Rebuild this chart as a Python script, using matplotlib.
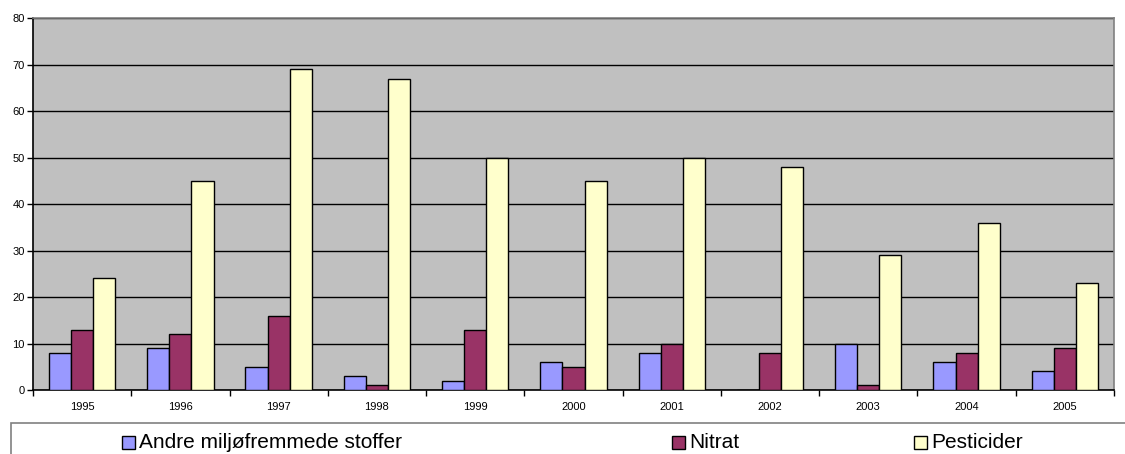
import matplotlib.pyplot as plt
import numpy as np
from matplotlib.patches import Rectangle

plt.rcParams["font.family"] = ["Liberation Sans", "DejaVu Sans"]

years = ["1995", "1996", "1997", "1998", "1999", "2000", "2001", "2002", "2003", "2004", "2005"]
andre = [8, 9, 5, 3, 2, 6, 8, 0, 10, 6, 4]
nitrat = [13, 12, 16, 1, 13, 5, 10, 8, 1, 8, 9]
pesticider = [24, 45, 69, 67, 50, 45, 50, 48, 29, 36, 23]

series = [
    ("Andre miljøfremmede stoffer", andre, "#9999FF"),
    ("Nitrat", nitrat, "#993366"),
    ("Pesticider", pesticider, "#FFFFCC"),
]

fig = plt.figure(figsize=(11.25, 4.54), dpi=100)
ax = fig.add_axes([0.0293, 0.141, 0.9609, 0.819])
ax.set_facecolor("#C0C0C0")

x = np.arange(len(years))
w = 0.225
for i, (name, vals, col) in enumerate(series):
    ax.bar(x + (i - 1) * w, vals, w, color=col, edgecolor="black", linewidth=1.0,
           label=name, zorder=3)

ax.set_xlim(-0.5, len(years) - 0.5)
ax.set_ylim(0, 80)
ax.set_yticks(range(0, 81, 10))
ax.yaxis.grid(True, color="black", linewidth=1.0, zorder=1)
ax.set_axisbelow(True)

ax.set_xticks(x)
ax.set_xticklabels(years, fontsize=8)
ax.set_xticks(np.arange(-0.5, len(years), 1.0), minor=True)
ax.tick_params(axis="x", which="major", length=0, pad=9)
ax.tick_params(axis="x", which="minor", length=4, direction="out", width=1)
ax.tick_params(axis="y", labelsize=8, length=4, width=1, pad=2)

for s in ("top", "right"):
    ax.spines[s].set_color("#808080")
    ax.spines[s].set_linewidth(1.2)
for s in ("left", "bottom"):
    ax.spines[s].set_color("black")
    ax.spines[s].set_linewidth(1.2)

# legend box running off the bottom of the figure
fig.patches.append(Rectangle((11 / 1125, -0.05), 1.2, 0.05 + 31 / 454, transform=fig.transFigure,
                             facecolor="white", edgecolor="#808080", linewidth=1.2))
leg_x = [122, 672, 914]
for (name, vals, col), lx in zip(series, leg_x):
    fig.patches.append(Rectangle((lx / 1125, 5 / 454), 13 / 1125, 13 / 454,
                                 transform=fig.transFigure, facecolor=col,
                                 edgecolor="black", linewidth=1.0))
    fig.text((lx + 17) / 1125, 5.5 / 454, name, fontsize=15, va="baseline", ha="left")

fig.savefig("out.png", dpi=100)
